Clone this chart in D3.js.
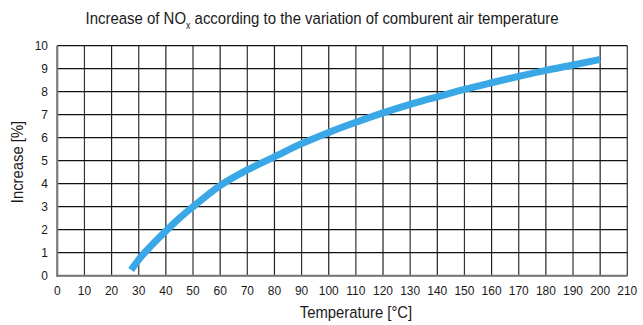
<!DOCTYPE html>
<html><head><meta charset="utf-8">
<script src="https://cdn.jsdelivr.net/npm/d3@7"></script>
<style>
html,body{margin:0;padding:0;background:#fff;}
text{font-family:"Liberation Sans","Arial",sans-serif;fill:#1a1a1a;}
</style></head>
<body>
<svg id="c" width="643" height="325"></svg>
<script>
const temperatures = [27.2, 30, 35, 40, 45, 50, 60, 70, 80, 90, 100, 110, 120, 130, 140, 150, 160, 170, 180, 190, 200];
const increases    = [0.25, 0.7, 1.35, 1.94, 2.5, 3.0, 3.92, 4.6, 5.17, 5.74, 6.23, 6.67, 7.08, 7.45, 7.78, 8.1, 8.39, 8.67, 8.93, 9.16, 9.4];
const xTicks = [0,10,20,30,40,50,60,70,80,90,100,110,120,130,140,150,160,170,180,190,200,210];
const yTicks = [0,1,2,3,4,5,6,7,8,9,10];

const svg = d3.select("#c");
const x = d3.scaleLinear().domain([0,210]).range([57.3,627.3]);
const y = d3.scaleLinear().domain([0,10]).range([275.7,45.7]);

// grid
const g = svg.append("g");
g.selectAll(".v").data(xTicks).join("line")
  .attr("x1",d=>x(d)).attr("x2",d=>x(d)).attr("y1",y(0)).attr("y2",y(10))
  .attr("stroke",(d,i)=>i%2?"#333":"#222").attr("stroke-width",1.2);
g.selectAll(".h").data(yTicks).join("line")
  .attr("x1",x(0)).attr("x2",x(210)).attr("y1",d=>y(d)).attr("y2",d=>y(d))
  .attr("stroke","#111").attr("stroke-width",1.2);
// axes (gray)
g.append("line").attr("x1",x(0)).attr("x2",x(0)).attr("y1",y(0)+1).attr("y2",y(10)).attr("stroke","#777").attr("stroke-width",2);
g.append("line").attr("x1",x(0)-1).attr("x2",x(210)).attr("y1",y(0)).attr("y2",y(0)).attr("stroke","#777").attr("stroke-width",2);

// tick labels (condensed look)
svg.append("g").selectAll("g").data(xTicks).join("g")
  .attr("transform",d=>`translate(${x(d)},295) scale(0.92,1)`)
  .append("text").attr("text-anchor","middle").attr("font-size",13).text(d=>d);
svg.append("g").selectAll("g").data(yTicks).join("g")
  .attr("transform",d=>`translate(48,${y(d)+4.7}) scale(0.92,1)`)
  .append("text").attr("text-anchor","end").attr("font-size",13).text(d=>d);

// curve
const line = d3.line().x((d,i)=>x(temperatures[i])).y(d=>y(d)).curve(d3.curveMonotoneX);
svg.append("path").datum(increases).attr("d",line)
  .attr("fill","none").attr("stroke","#3aa8e6").attr("stroke-width",7);

// title
const tg = svg.append("g").attr("transform","translate(322,24) scale(0.88,1)");
const t = tg.append("text").attr("text-anchor","middle").attr("font-size",17);
t.append("tspan").text("Increase of NO");
t.append("tspan").attr("font-size",10).attr("dy",4.5).text("x");
t.append("tspan").attr("dy",-4.5).text(" according to the variation of comburent air temperature");

// axis titles
svg.append("g").attr("transform","translate(356,318) scale(0.9,1)")
  .append("text").attr("text-anchor","middle").attr("font-size",16.5).text("Temperature [°C]");
svg.append("g").attr("transform","translate(23,162) rotate(-90) scale(0.9,1)")
  .append("text").attr("text-anchor","middle").attr("font-size",16.5).text("Increase [%]");
</script>
</body></html>
